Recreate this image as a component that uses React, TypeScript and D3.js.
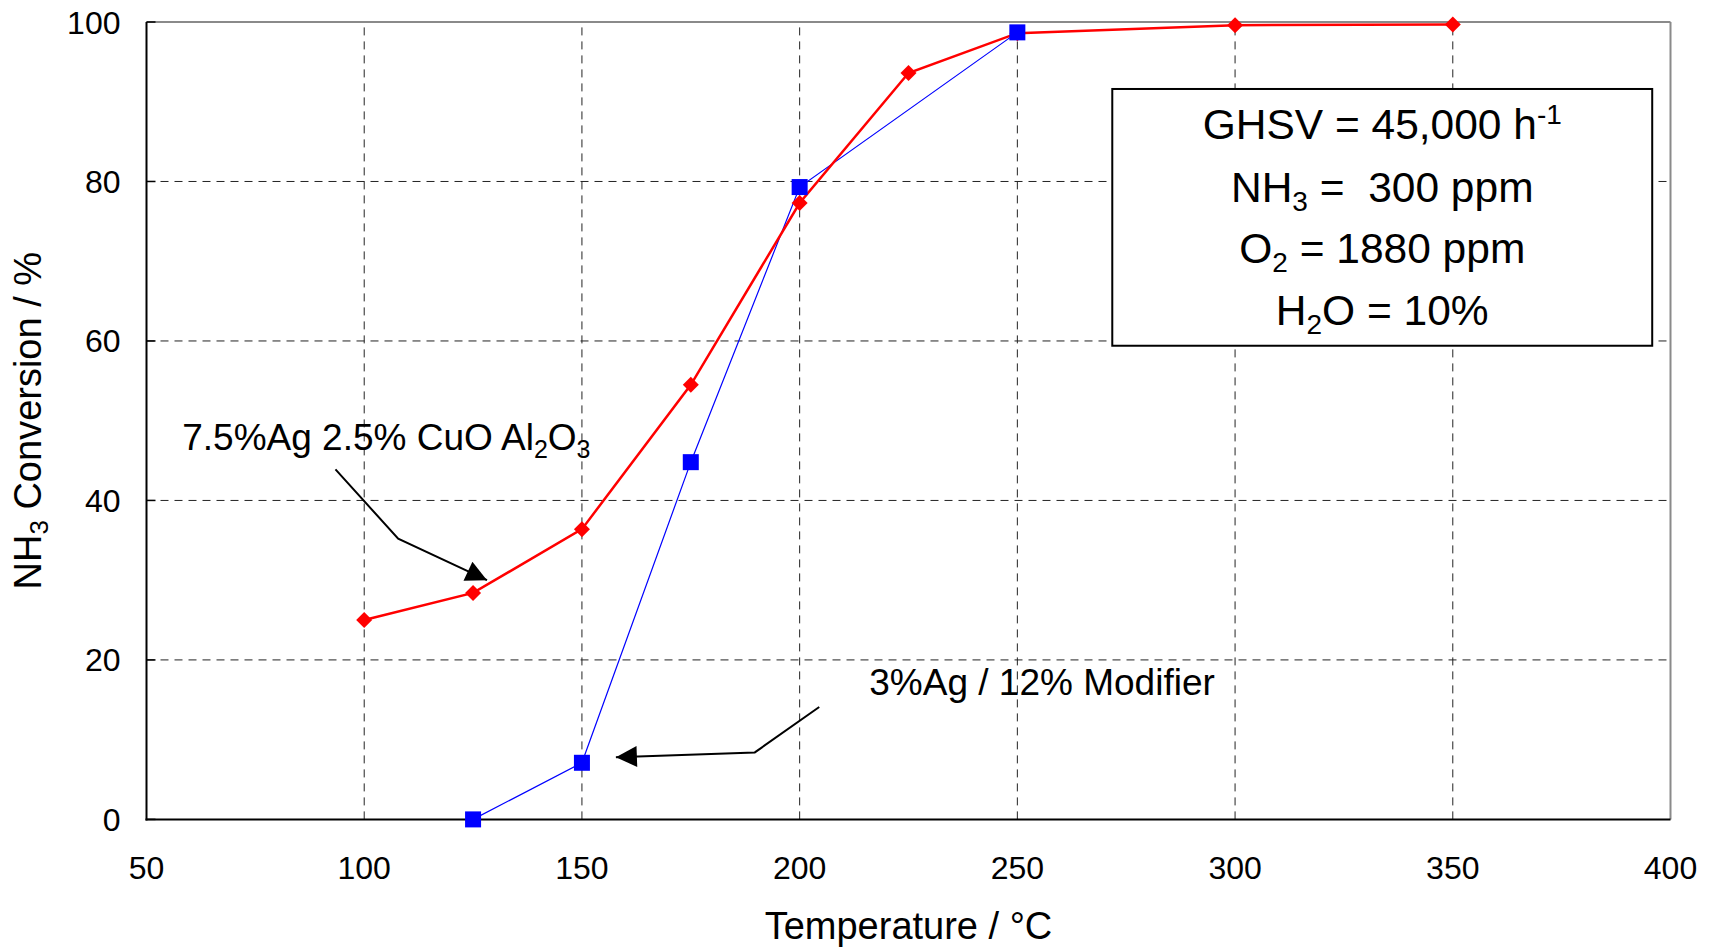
import React from "react";
import * as d3 from "d3";

const xTicks = [50, 100, 150, 200, 250, 300, 350, 400];
const yTicks = [0, 20, 40, 60, 80, 100];

const agCuTemps = [100, 125, 150, 175, 200, 225, 250, 300, 350];
const agCuValues = [25.0, 28.4, 36.4, 54.5, 77.3, 93.6, 98.6, 99.6, 99.7];

const agModTemps = [125, 150, 175, 200, 250];
const agModValues = [0, 7.1, 44.8, 79.3, 98.7];

// annotation geometry in data units (temperature, conversion)
const arrow1 = [[93.4, 43.9], [107.8, 35.2], [128.2, 30.0]];
const arrow2 = [[204.5, 14.1], [189.7, 8.4], [157.8, 7.8]];
const label1Pos = [58.2, 46.3];
const label2Pos = [216.0, 15.6];
const boxX = [271.8, 395.8];
const boxY = [91.6, 59.4];

const W = 1713;
const H = 947;
const FONT = "'Liberation Sans', Arial, Helvetica, sans-serif";

export default function App() {
  const x = d3.scaleLinear().domain([50, 400]).range([146.5, 1670.5]);
  const y = d3.scaleLinear().domain([0, 100]).range([819.4, 22]);

  const line = d3
    .line<[number, number]>()
    .x((d) => x(d[0]))
    .y((d) => y(d[1]));

  const redPts: [number, number][] = agCuTemps.map((t, i) => [t, agCuValues[i]]);
  const bluePts: [number, number][] = agModTemps.map((t, i) => [t, agModValues[i]]);

  const [x0, x1] = x.range();
  const [yb, yt] = y.range();

  const bx0 = x(boxX[0]);
  const bx1 = x(boxX[1]);
  const by0 = y(boxY[0]);
  const by1 = y(boxY[1]);
  const bcx = (bx0 + bx1) / 2;

  return (
    <svg
      width={W}
      height={H}
      style={{ position: "absolute", left: 0, top: 0, background: "#fff" }}
      fontFamily={FONT}
    >
      <defs>
        <marker
          id="arrowHead"
          viewBox="0 0 10 10"
          refX="10"
          refY="5"
          markerUnits="userSpaceOnUse"
          markerWidth="23"
          markerHeight="21"
          orient="auto"
        >
          <path d="M0,0 L10,5 L0,10 z" fill="#000" />
        </marker>
      </defs>
      <rect x={0} y={0} width={W} height={H} fill="#fff" />

      {/* grid */}
      {xTicks
        .filter((t) => t > 50 && t < 400)
        .map((t) => (
          <line
            key={"gx" + t}
            x1={x(t)}
            x2={x(t)}
            y1={yb}
            y2={yt}
            stroke="#222"
            strokeWidth={1}
            strokeDasharray="8,6"
          />
        ))}
      {yTicks
        .filter((v) => v > 0 && v < 100)
        .map((v) => (
          <line
            key={"gy" + v}
            x1={x0}
            x2={x1}
            y1={y(v)}
            y2={y(v)}
            stroke="#222"
            strokeWidth={1}
            strokeDasharray="8,6"
          />
        ))}

      {/* frame */}
      <line x1={x0} x2={x1} y1={yt} y2={yt} stroke="#8a8a8a" strokeWidth={2} />
      <line x1={x1} x2={x1} y1={yt} y2={yb} stroke="#8a8a8a" strokeWidth={2} />
      <line x1={x0} x2={x0} y1={yt} y2={yb + 1} stroke="#000" strokeWidth={2} />
      <line x1={x0 - 1} x2={x1} y1={yb} y2={yb} stroke="#000" strokeWidth={2} />
      {yTicks.map((v) => (
        <line key={"ty" + v} x1={x0} x2={x0 + 9} y1={y(v)} y2={y(v)} stroke="#000" strokeWidth={1.5} />
      ))}

      {/* tick labels */}
      {yTicks.map((v) => (
        <text
          key={"ly" + v}
          x={x0 - 26}
          y={y(v)}
          dy="0.36em"
          textAnchor="end"
          fontSize={32}
          fill="#000"
        >
          {v}
        </text>
      ))}
      {xTicks.map((t) => (
        <text key={"lx" + t} x={x(t)} y={879} textAnchor="middle" fontSize={32} fill="#000">
          {t}
        </text>
      ))}

      {/* axis titles */}
      <text x={(x0 + x1) / 2} y={939} textAnchor="middle" fontSize={38} fill="#000">
        Temperature / °C
      </text>
      <text
        transform={`translate(41, ${(yt + yb) / 2}) rotate(-90)`}
        textAnchor="middle"
        fontSize={38}
        fill="#000"
      >
        NH
        <tspan fontSize={26} dy={7}>3</tspan>
        <tspan dy={-7}> Conversion / %</tspan>
      </text>

      {/* series */}
      <path d={line(bluePts) || ""} fill="none" stroke="#0000ff" strokeWidth={1.2} />
      <path d={line(redPts) || ""} fill="none" stroke="#ff0000" strokeWidth={2.5} />
      {redPts.map((p, i) => {
        const cx = x(p[0]);
        const cy = y(p[1]);
        const r = 8;
        return (
          <path
            key={"r" + i}
            d={`M${cx},${cy - r}L${cx + r},${cy}L${cx},${cy + r}L${cx - r},${cy}Z`}
            fill="#ff0000"
          />
        );
      })}
      {bluePts.map((p, i) => (
        <rect
          key={"b" + i}
          x={x(p[0]) - 8}
          y={y(p[1]) - 8}
          width={16}
          height={16}
          fill="#0000ff"
        />
      ))}

      {/* annotations */}
      <path
        d={line(arrow1 as [number, number][]) || ""}
        fill="none"
        stroke="#000"
        strokeWidth={2}
        markerEnd="url(#arrowHead)"
      />
      <path
        d={line(arrow2 as [number, number][]) || ""}
        fill="none"
        stroke="#000"
        strokeWidth={2}
        markerEnd="url(#arrowHead)"
      />
      <text x={x(label1Pos[0])} y={y(label1Pos[1])} fontSize={37} fill="#000">
        7.5%Ag 2.5% CuO Al
        <tspan fontSize={25} dy={8}>2</tspan>
        <tspan dy={-8}>O</tspan>
        <tspan fontSize={25} dy={8}>3</tspan>
      </text>
      <text x={x(label2Pos[0])} y={y(label2Pos[1])} fontSize={37} fill="#000">
        3%Ag / 12% Modifier
      </text>

      {/* condition box */}
      <rect
        x={bx0}
        y={by0}
        width={bx1 - bx0}
        height={by1 - by0}
        fill="#fff"
        stroke="#000"
        strokeWidth={2}
      />
      <g fontSize={42.5} fill="#000" textAnchor="middle">
        <text x={bcx} y={by0 + 50}>
          GHSV = 45,000 h
          <tspan fontSize={28} dy={-15}>-1</tspan>
        </text>
        <text x={bcx} y={by0 + 113} style={{ whiteSpace: "pre" }}>
          NH
          <tspan fontSize={28} dy={9}>3</tspan>
          <tspan dy={-9}>{" =  300 ppm"}</tspan>
        </text>
        <text x={bcx} y={by0 + 174}>
          O
          <tspan fontSize={28} dy={9}>2</tspan>
          <tspan dy={-9}> = 1880 ppm</tspan>
        </text>
        <text x={bcx} y={by0 + 236}>
          H
          <tspan fontSize={28} dy={9}>2</tspan>
          <tspan dy={-9}>O = 10%</tspan>
        </text>
      </g>
    </svg>
  );
}
